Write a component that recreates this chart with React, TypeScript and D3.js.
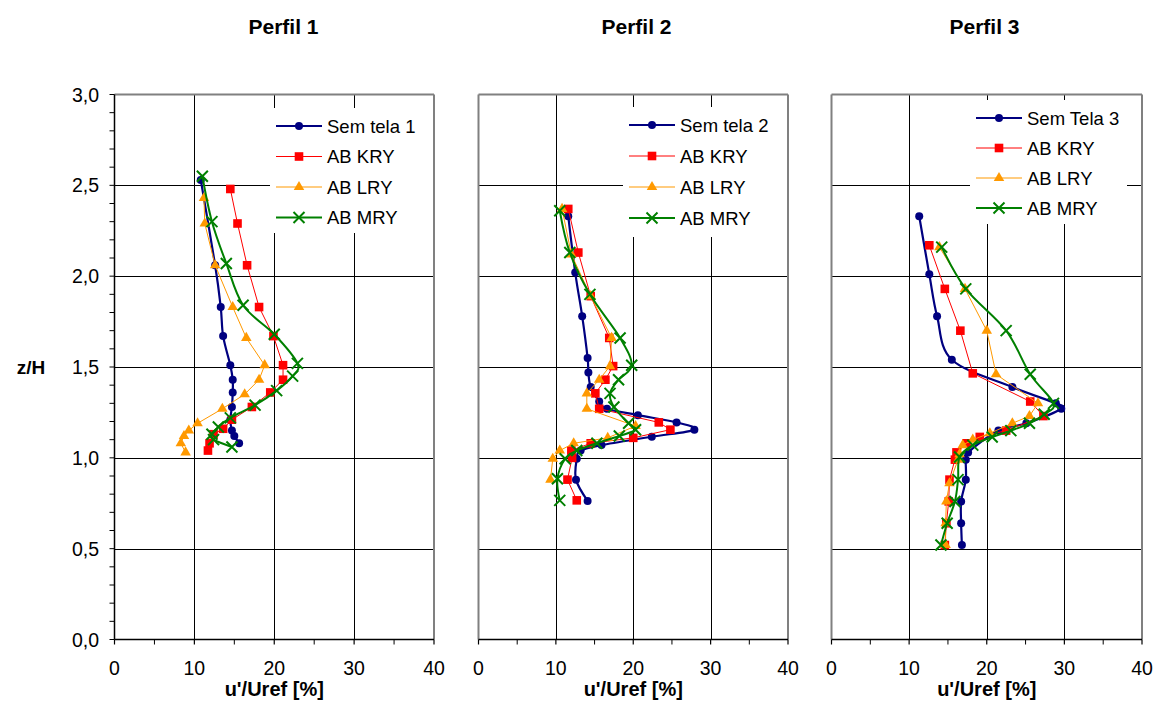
import * as d3 from "d3";
import { useEffect, useRef } from "react";

type Pt = [number, number]; // [u'/Uref %, z/H]

// Perfil 1
const p1Sem: Pt[] = [[10.8, 2.53], [12.6, 2.06], [13.3, 1.83], [13.6, 1.67], [14.5, 1.51], [14.8, 1.43], [14.8, 1.36], [14.7, 1.28], [14.5, 1.21], [14.7, 1.15], [15.0, 1.12], [15.6, 1.08]];
const p1Kry: Pt[] = [[14.5, 2.48], [15.4, 2.29], [16.6, 2.06], [18.1, 1.83], [19.9, 1.67], [21.1, 1.51], [21.1, 1.43], [19.5, 1.36], [17.2, 1.28], [14.7, 1.21], [13.6, 1.16], [12.4, 1.13], [11.9, 1.08], [11.7, 1.04]];
const p1Lry: Pt[] = [[11.2, 2.43], [11.3, 2.29], [12.6, 2.06], [14.8, 1.83], [16.5, 1.66], [18.8, 1.51], [18.1, 1.43], [16.3, 1.35], [13.5, 1.27], [10.4, 1.19], [9.3, 1.15], [8.7, 1.12], [8.3, 1.08], [8.9, 1.03]];
const p1Mry: Pt[] = [[11.0, 2.55], [12.2, 2.3], [14.0, 2.07], [16.1, 1.84], [20.0, 1.68], [22.9, 1.52], [22.3, 1.45], [20.3, 1.37], [17.6, 1.29], [14.5, 1.22], [13.0, 1.17], [12.2, 1.13], [12.4, 1.1], [14.7, 1.06]];

// Perfil 2
const p2Sem: Pt[] = [[11.6, 2.33], [12.5, 2.02], [13.4, 1.78], [14.1, 1.55], [14.2, 1.47], [14.5, 1.39], [15.6, 1.31], [16.6, 1.27], [20.6, 1.235], [25.6, 1.195], [27.9, 1.155], [22.4, 1.116], [15.9, 1.07], [13.2, 1.04], [12.7, 0.995], [12.6, 0.88], [14.1, 0.763]];
const p2Kry: Pt[] = [[11.6, 2.37], [12.9, 2.13], [14.5, 1.89], [16.9, 1.66], [17.4, 1.505], [16.4, 1.43], [15.1, 1.355], [15.6, 1.27], [23.3, 1.195], [24.8, 1.155], [20.0, 1.11], [14.5, 1.08], [12.0, 1.04], [12.1, 1.0], [11.5, 0.88], [12.7, 0.766]];
const p2Lry: Pt[] = [[10.8, 2.37], [12.0, 2.12], [14.5, 1.89], [17.2, 1.66], [17.0, 1.505], [15.6, 1.43], [14.0, 1.355], [14.0, 1.27], [20.3, 1.175], [16.7, 1.11], [12.3, 1.08], [10.5, 1.04], [9.6, 0.995], [9.3, 0.88]];
const p2Mry: Pt[] = [[10.5, 2.36], [11.8, 2.13], [14.4, 1.9], [18.3, 1.66], [19.8, 1.51], [18.1, 1.43], [17.0, 1.355], [17.5, 1.28], [19.4, 1.19], [20.3, 1.155], [18.2, 1.12], [15.3, 1.08], [12.7, 1.04], [11.2, 0.995], [10.2, 0.885], [10.5, 0.766]];

// Perfil 3
const p3Sem: Pt[] = [[11.3, 2.33], [12.6, 2.01], [13.6, 1.78], [15.5, 1.54], [23.3, 1.39], [28.9, 1.3], [29.6, 1.27], [25.1, 1.19], [21.5, 1.15], [17.6, 1.03], [17.3, 0.99], [17.3, 0.88], [16.7, 0.76], [16.7, 0.64], [16.8, 0.52]];
const p3Kry: Pt[] = [[12.6, 2.17], [14.6, 1.93], [16.6, 1.7], [18.2, 1.465], [25.6, 1.31], [27.3, 1.23], [22.5, 1.15], [19.1, 1.115], [17.4, 1.08], [16.1, 1.03], [15.9, 0.99], [15.2, 0.88], [15.1, 0.76], [14.8, 0.64], [14.6, 0.52]];
const p3Lry: Pt[] = [[13.9, 2.16], [17.2, 1.93], [20.0, 1.7], [21.2, 1.46], [26.6, 1.3], [25.5, 1.23], [23.3, 1.19], [20.4, 1.135], [18.2, 1.1], [16.9, 1.07], [16.5, 1.02], [16.3, 0.99], [15.2, 0.86], [14.8, 0.76], [14.7, 0.64], [14.7, 0.52]];
const p3Mry: Pt[] = [[14.2, 2.16], [17.3, 1.93], [22.5, 1.7], [25.6, 1.46], [28.6, 1.3], [27.4, 1.24], [25.5, 1.19], [23.1, 1.15], [20.7, 1.115], [18.2, 1.07], [16.5, 1.005], [16.3, 0.88], [15.9, 0.76], [14.9, 0.64], [14.1, 0.52]];

const titles = ["Perfil 1", "Perfil 2", "Perfil 3"];
const names = [
  ["Sem tela 1", "AB KRY", "AB LRY", "AB MRY"],
  ["Sem tela 2", "AB KRY", "AB LRY", "AB MRY"],
  ["Sem Tela 3", "AB KRY", "AB LRY", "AB MRY"],
];
const data = [
  [p1Sem, p1Kry, p1Lry, p1Mry],
  [p2Sem, p2Kry, p2Lry, p2Mry],
  [p3Sem, p3Kry, p3Lry, p3Mry],
];
const xTicks = [0, 10, 20, 30, 40];
const xMinor = [5, 15, 25, 35];
const yTicks = [0, 0.5, 1, 1.5, 2, 2.5, 3];
const xTitle = "u'/Uref [%]";
const yTitle = "z/H";

// styles per series: navy circle, red square, orange triangle, green cross
const styles = [
  { color: "#000080", width: 2.2, smooth: true, marker: "circle" },
  { color: "#ff0000", width: 1, smooth: false, marker: "square" },
  { color: "#ff9900", width: 1, smooth: false, marker: "triangle" },
  { color: "#008000", width: 2, smooth: true, marker: "cross" },
];

const panels = [
  { x0: 114.5, x1: 434, tx: 283.5, leg: { x: 270, y: 108, w: 163, h: 125, y0: 126, dy: 30.5 }, axisY: true },
  { x0: 478.5, x1: 788, tx: 636.5, leg: { x: 623, y: 107, w: 164, h: 130, y0: 125, dy: 31 }, axisY: false },
  { x0: 831.5, x1: 1142, tx: 984.5, leg: { x: 970, y: 100, w: 157, h: 124, y0: 118, dy: 30 }, axisY: false },
];

const FONT = "'Liberation Sans', Arial, sans-serif";
const locale = d3.formatLocale({ decimal: ",", thousands: ".", grouping: [3], currency: ["", ""] });
const fmtY = locale.format(".1f");

function drawMarker(g: any, kind: string, color: string, x: number, y: number) {
  if (kind === "circle") {
    g.append("circle").attr("cx", x).attr("cy", y).attr("r", 4).attr("fill", color);
  } else if (kind === "square") {
    g.append("rect").attr("x", x - 4.3).attr("y", y - 4.3).attr("width", 8.6).attr("height", 8.6).attr("fill", color);
  } else if (kind === "triangle") {
    g.append("path")
      .attr("d", d3.symbol(d3.symbolTriangle, 48)())
      .attr("transform", `translate(${x},${y})`)
      .attr("fill", color);
  } else {
    const s = 5.5;
    g.append("path")
      .attr("d", `M${x - s},${y - s}L${x + s},${y + s}M${x - s},${y + s}L${x + s},${y - s}`)
      .attr("stroke", color)
      .attr("stroke-width", 2)
      .attr("fill", "none");
  }
}

export default function App() {
  const ref = useRef<SVGSVGElement>(null);

  useEffect(() => {
    const svg = d3.select(ref.current);
    svg.selectAll("*").remove();
    svg.attr("font-family", FONT);

    const top = 94.5;
    const bottom = 639.5;
    const y = d3.scaleLinear().domain([0, 3]).range([bottom, top]);

    // y title
    svg.append("text").attr("x", 31).attr("y", y(1.5) + 7).attr("text-anchor", "middle")
      .attr("font-size", 19).attr("font-weight", "bold").text(yTitle);

    panels.forEach((p, pi) => {
      const x = d3.scaleLinear().domain([0, 40]).range([p.x0, p.x1]);
      const g = svg.append("g");

      // title
      g.append("text").attr("x", p.tx).attr("y", 34).attr("text-anchor", "middle")
        .attr("font-size", 21).attr("font-weight", "bold").text(titles[pi]);

      // gridlines
      yTicks.filter((t) => t > 0 && t < 3).forEach((t) => {
        g.append("line").attr("x1", p.x0).attr("x2", p.x1).attr("y1", Math.round(y(t)) + 0.5).attr("y2", Math.round(y(t)) + 0.5)
          .attr("stroke", "#000").attr("stroke-width", 1);
      });
      xTicks.filter((t) => t > 0 && t < 40).forEach((t) => {
        g.append("line").attr("x1", Math.round(x(t)) + 0.5).attr("x2", Math.round(x(t)) + 0.5).attr("y1", top).attr("y2", bottom)
          .attr("stroke", "#000").attr("stroke-width", 1);
      });

      // frame: top & right (and left for panels without axis) gray
      g.append("line").attr("x1", p.x0).attr("x2", p.x1).attr("y1", top).attr("y2", top).attr("stroke", "#808080").attr("stroke-width", 2);
      g.append("line").attr("x1", p.x1).attr("x2", p.x1).attr("y1", top).attr("y2", bottom).attr("stroke", "#808080").attr("stroke-width", 2);
      g.append("line").attr("x1", p.x0).attr("x2", p.x0).attr("y1", top).attr("y2", bottom)
        .attr("stroke", p.axisY ? "#000" : "#808080").attr("stroke-width", p.axisY ? 1.5 : 2);

      // x axis
      g.append("line").attr("x1", p.x0).attr("x2", p.x1).attr("y1", bottom).attr("y2", bottom).attr("stroke", "#000").attr("stroke-width", 1.5);
      xTicks.forEach((t) => {
        g.append("line").attr("x1", x(t)).attr("x2", x(t)).attr("y1", bottom).attr("y2", bottom + 5).attr("stroke", "#000").attr("stroke-width", 1.2);
        g.append("text").attr("x", x(t)).attr("y", 675).attr("text-anchor", "middle").attr("font-size", 19.5).text(String(t));
      });
      xMinor.forEach((t) => {
        g.append("line").attr("x1", x(t)).attr("x2", x(t)).attr("y1", bottom).attr("y2", bottom + 5).attr("stroke", "#000").attr("stroke-width", 1);
      });
      g.append("text").attr("x", (p.x0 + p.x1) / 2).attr("y", 696).attr("text-anchor", "middle")
        .attr("font-size", 20).attr("font-weight", "bold").text(xTitle);

      // y axis (first panel only)
      if (p.axisY) {
        d3.range(0, 31).forEach((i) => {
          const t = i / 10;
          g.append("line").attr("x1", p.x0 - 5).attr("x2", p.x0).attr("y1", y(t)).attr("y2", y(t)).attr("stroke", "#000").attr("stroke-width", 1);
        });
        yTicks.forEach((t) => {
          g.append("text").attr("x", 99).attr("y", y(t) + 7).attr("text-anchor", "end").attr("font-size", 19.5).text(fmtY(t));
        });
      }

      // legend box (white, hides grid)
      const L = p.leg;
      g.append("rect").attr("x", L.x).attr("y", L.y).attr("width", L.w).attr("height", L.h).attr("fill", "#fff");

      // series
      data[pi].forEach((pts, si) => {
        const st = styles[si];
        const line = d3.line<Pt>()
          .x((d) => x(d[0]))
          .y((d) => y(d[1]))
          .curve(st.smooth ? d3.curveCardinal.tension(0) : d3.curveLinear);
        g.append("path").attr("d", line(pts)).attr("fill", "none").attr("stroke", st.color).attr("stroke-width", st.width);
        const mg = g.append("g");
        pts.forEach((d) => drawMarker(mg, st.marker, st.color, x(d[0]), y(d[1])));
      });

      // legend entries
      names[pi].forEach((n, si) => {
        const st = styles[si];
        const ly = L.y0 + si * L.dy;
        const lx0 = L.x + 6;
        const lx1 = L.x + 52;
        g.append("line").attr("x1", lx0).attr("x2", lx1).attr("y1", ly).attr("y2", ly).attr("stroke", st.color).attr("stroke-width", st.width);
        drawMarker(g, st.marker, st.color, (lx0 + lx1) / 2, ly);
        g.append("text").attr("x", L.x + 57).attr("y", ly + 6.6).attr("font-size", 18.5).text(n);
      });
    });
  }, []);

  return (
    <svg
      ref={ref}
      width={1158}
      height={713}
      style={{ position: "absolute", left: 0, top: 0, background: "#fff" }}
    />
  );
}
